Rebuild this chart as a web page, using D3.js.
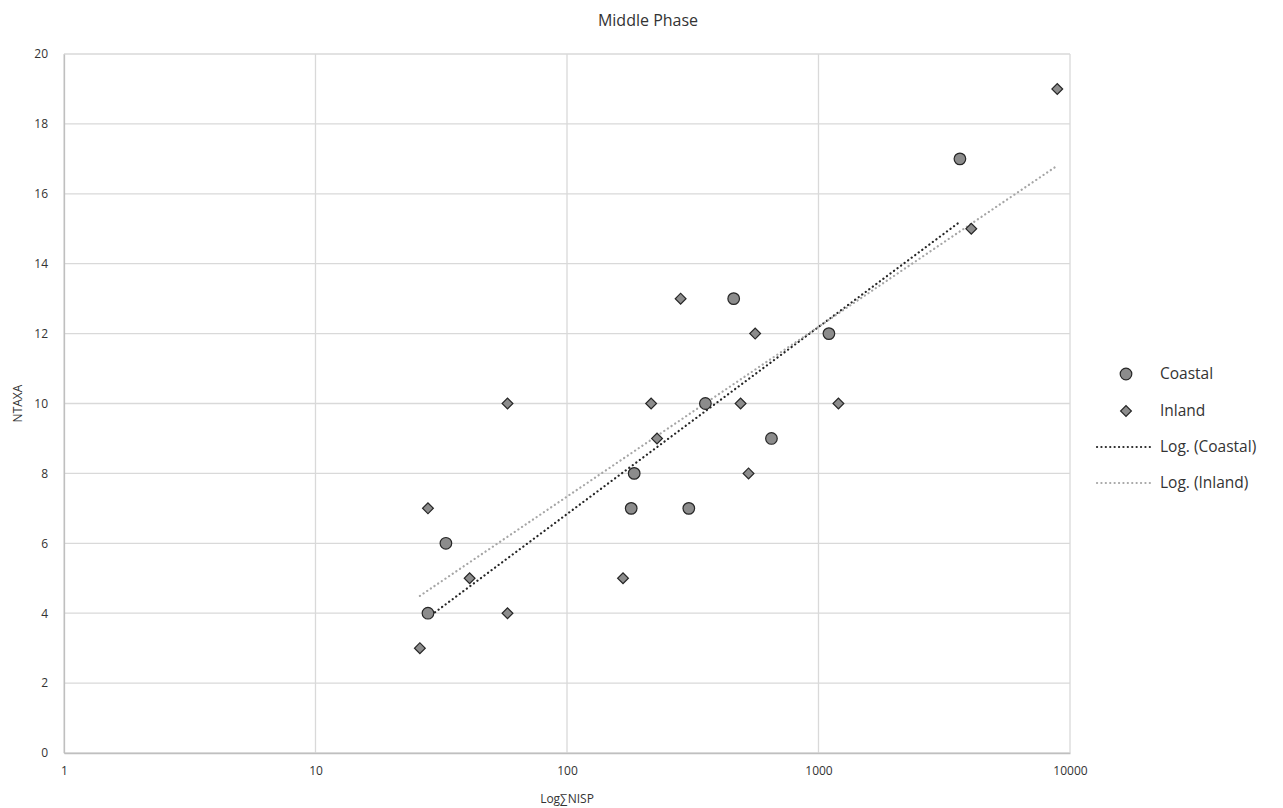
<!DOCTYPE html>
<html>
<head>
<meta charset="utf-8">
<script src="https://cdn.jsdelivr.net/npm/d3@7"></script>
<style>
  body { margin: 0; background: #fff; }
  svg { font-family: "Open Sans", "Liberation Sans", sans-serif; }
</style>
</head>
<body>
<div id="chart"></div>
<script>
// Données
const coastalNisp = [28, 33, 180, 185, 305, 355, 460, 650, 1100, 3650];
const coastalTaxa = [4, 6, 7, 8, 7, 10, 13, 9, 12, 17];
const inlandNisp = [26, 28, 41, 58, 58, 167, 216, 228, 283, 490, 527, 560, 1200, 4050, 8900];
const inlandTaxa = [3, 7, 5, 10, 4, 5, 10, 9, 13, 10, 8, 12, 10, 15, 19];
const xTicks = [1, 10, 100, 1000, 10000];
const yTicks = [0, 2, 4, 6, 8, 10, 12, 14, 16, 18, 20];
const seriesNames = ['Coastal', 'Inland'];
const trendNames = ['Log. (Coastal)', 'Log. (Inland)'];

const width = 1283, height = 808;
const margin = { left: 64, right: 213, top: 54, bottom: 55 };

const svg = d3.select('#chart').append('svg')
    .attr('width', width).attr('height', height);

const x = d3.scaleLog().domain([1, 10000]).range([margin.left, width - margin.right]);
const y = d3.scaleLinear().domain([0, 20]).range([height - margin.bottom, margin.top]);

// Grille
svg.append('g').selectAll('line.h').data(yTicks).enter().append('line')
    .attr('x1', x(1)).attr('x2', x(10000))
    .attr('y1', d => y(d)).attr('y2', d => y(d))
    .attr('stroke', '#d9d9d9').attr('stroke-width', 1.3);
svg.append('g').selectAll('line.v').data(xTicks).enter().append('line')
    .attr('x1', d => x(d)).attr('x2', d => x(d))
    .attr('y1', y(0)).attr('y2', y(20))
    .attr('stroke', '#d9d9d9').attr('stroke-width', 1.3);

// Axes
const xAxis = svg.append('g').attr('transform', `translate(0,${y(0)})`)
    .call(d3.axisBottom(x).tickValues(xTicks).tickFormat(d3.format('d')).tickSize(0).tickPadding(13));
const yAxis = svg.append('g').attr('transform', `translate(${x(1)},0)`)
    .call(d3.axisLeft(y).tickValues(yTicks).tickSize(0).tickPadding(16));
[xAxis, yAxis].forEach(a => {
    a.select('.domain').attr('stroke', '#bfbfbf').attr('stroke-width', 1.3);
    a.selectAll('text').attr('font-size', 12).attr('fill', '#333')
        .attr('font-family', '"Open Sans", "Liberation Sans", sans-serif');
});

// Courbes de tendance logarithmiques (moindres carrés sur ln x)
function logFit(xs, ys) {
    const lx = xs.map(v => Math.log(v));
    const mx = d3.mean(lx), my = d3.mean(ys);
    let num = 0, den = 0;
    lx.forEach((v, i) => { num += (v - mx) * (ys[i] - my); den += (v - mx) * (v - mx); });
    const b = num / den, a = my - b * mx;
    return v => a + b * Math.log(v);
}
function trendPoints(xs, ys) {
    const f = logFit(xs, ys);
    const lo = d3.min(xs), hi = d3.max(xs);
    return d3.range(0, 51).map(i => {
        const v = Math.exp(Math.log(lo) + (Math.log(hi) - Math.log(lo)) * i / 50);
        return [v, f(v)];
    });
}
const line = d3.line().x(d => x(d[0])).y(d => y(d[1]));
const trendStyles = [
    { color: '#262626', data: trendPoints(coastalNisp, coastalTaxa) },
    { color: '#a6a6a6', data: trendPoints(inlandNisp, inlandTaxa) }
];
trendStyles.forEach(t => {
    svg.append('path').datum(t.data).attr('d', line)
        .attr('fill', 'none').attr('stroke', t.color)
        .attr('stroke-width', 2.2).attr('stroke-dasharray', '0.1,4.3')
        .attr('stroke-linecap', 'round');
});

// Points
const markerFill = '#8c8c8c', markerStroke = '#262626';
const diamond = d3.symbol().type(d3.symbolSquare).size(58);
svg.append('g').selectAll('circle').data(coastalNisp.map((v, i) => [v, coastalTaxa[i]]))
    .enter().append('circle')
    .attr('cx', d => x(d[0])).attr('cy', d => y(d[1])).attr('r', 5.8)
    .attr('fill', markerFill).attr('stroke', markerStroke).attr('stroke-width', 1.2);
svg.append('g').selectAll('path').data(inlandNisp.map((v, i) => [v, inlandTaxa[i]]))
    .enter().append('path')
    .attr('d', diamond)
    .attr('transform', d => `translate(${x(d[0])},${y(d[1])}) rotate(45)`)
    .attr('fill', markerFill).attr('stroke', markerStroke).attr('stroke-width', 1.2);

// Titres
svg.append('text').attr('x', 648).attr('y', 26).attr('text-anchor', 'middle')
    .attr('font-size', 16).attr('fill', '#333').text('Middle Phase');
svg.append('text').attr('x', x(100)).attr('y', 803).attr('text-anchor', 'middle')
    .attr('font-size', 12).attr('fill', '#333').text('Log∑NISP');
svg.append('text').attr('transform', `translate(22,${y(10)}) rotate(-90)`)
    .attr('text-anchor', 'middle').attr('font-size', 12).attr('fill', '#333').text('NTAXA');

// Légende
const lg = svg.append('g');
const legY = [374, 411, 447, 483];
lg.append('circle').attr('cx', 1126).attr('cy', legY[0]).attr('r', 5.8)
    .attr('fill', markerFill).attr('stroke', markerStroke).attr('stroke-width', 1.2);
lg.append('path').attr('d', diamond)
    .attr('transform', `translate(1126,${legY[1]}) rotate(45)`)
    .attr('fill', markerFill).attr('stroke', markerStroke).attr('stroke-width', 1.2);
trendStyles.forEach((t, i) => {
    lg.append('line').attr('x1', 1097).attr('x2', 1151)
        .attr('y1', legY[2 + i]).attr('y2', legY[2 + i])
        .attr('stroke', t.color).attr('stroke-width', 2.2)
        .attr('stroke-dasharray', '0.1,4.3').attr('stroke-linecap', 'round');
});
seriesNames.concat(trendNames).forEach((n, i) => {
    lg.append('text').attr('x', 1160).attr('y', legY[i]).attr('dy', '0.35em')
        .attr('font-size', 15.5).attr('fill', '#333').text(n);
});
</script>
</body>
</html>
